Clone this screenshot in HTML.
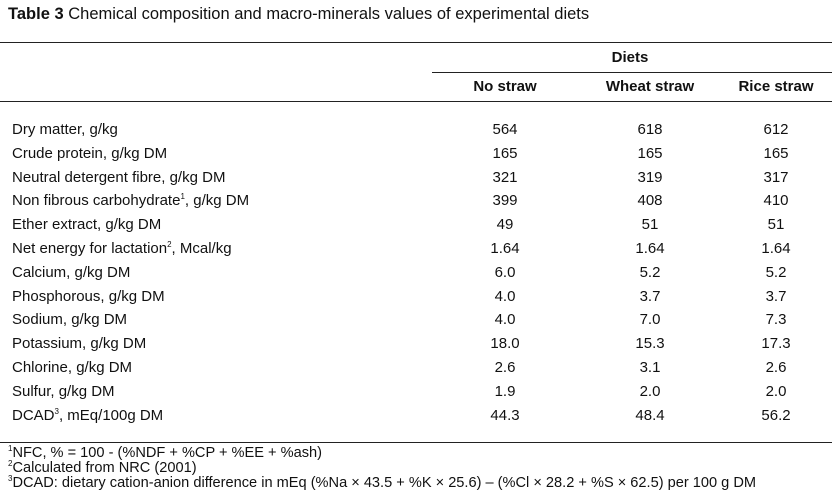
<!DOCTYPE html>
<html><head><meta charset="utf-8"><style>
body{margin:0;width:832px;height:504px;background:#fff;font-family:"Liberation Sans",Arial,sans-serif;color:#111;position:relative;overflow:hidden}
.a{position:absolute;white-space:nowrap;font-size:15px}
.c{transform:translateX(-50%)}
.ln{position:absolute;height:1px;background:#222}
sup{font-size:8px;vertical-align:6px;line-height:0}
.f{font-size:14.6px}
</style></head><body>
<div class="a" style="left:8px;top:5px;font-size:16.5px"><b>Table 3</b> Chemical composition and macro-minerals values of experimental diets</div>
<div class="ln" style="left:0;width:832px;top:42px"></div>
<div class="a c" style="left:630px;top:49px;font-weight:bold">Diets</div>
<div class="ln" style="left:432px;width:400px;top:72px"></div>
<div class="a c" style="left:505px;top:78px;font-weight:bold">No straw</div>
<div class="a c" style="left:650px;top:78px;font-weight:bold">Wheat straw</div>
<div class="a c" style="left:776px;top:78px;font-weight:bold">Rice straw</div>
<div class="ln" style="left:0;width:832px;top:101px"></div>
<div id="rows"></div>
<div class="ln" style="left:0;width:832px;top:442px"></div>
<div class="a f" style="left:8px;top:445px"><sup>1</sup>NFC, % = 100 - (%NDF + %CP + %EE + %ash)</div>
<div class="a f" style="left:8px;top:460px"><sup>2</sup>Calculated from NRC (2001)</div>
<div class="a f" style="left:8px;top:475px"><sup>3</sup>DCAD: dietary cation-anion difference in mEq (%Na × 43.5 + %K × 25.6) – (%Cl × 28.2 + %S × 62.5) per 100 g DM</div>
<script>
const labels=["Dry matter, g/kg","Crude protein, g/kg DM","Neutral detergent fibre, g/kg DM","Non fibrous carbohydrate<sup>1</sup>, g/kg DM","Ether extract, g/kg DM","Net energy for lactation<sup>2</sup>, Mcal/kg","Calcium, g/kg DM","Phosphorous, g/kg DM","Sodium, g/kg DM","Potassium, g/kg DM","Chlorine, g/kg DM","Sulfur, g/kg DM","DCAD<sup>3</sup>, mEq/100g DM"];
const noStraw=["564","165","321","399","49","1.64","6.0","4.0","4.0","18.0","2.6","1.9","44.3"];
const wheat=["618","165","319","408","51","1.64","5.2","3.7","7.0","15.3","3.1","2.0","48.4"];
const rice=["612","165","317","410","51","1.64","5.2","3.7","7.3","17.3","2.6","2.0","56.2"];
const root=document.getElementById('rows');
labels.forEach((l,i)=>{
  const y=121+i*23.8;
  const d=document.createElement('div');d.className='a';d.style.left='12px';d.style.top=y+'px';d.innerHTML=l;
  
  
  root.appendChild(d);
  [[noStraw,505],[wheat,650],[rice,776]].forEach(([arr,x])=>{
    const v=document.createElement('div');v.className='a c';v.style.left=x+'px';v.style.top=y+'px';v.textContent=arr[i];
    
    
    root.appendChild(v);
  });
});
</script>
</body></html>
